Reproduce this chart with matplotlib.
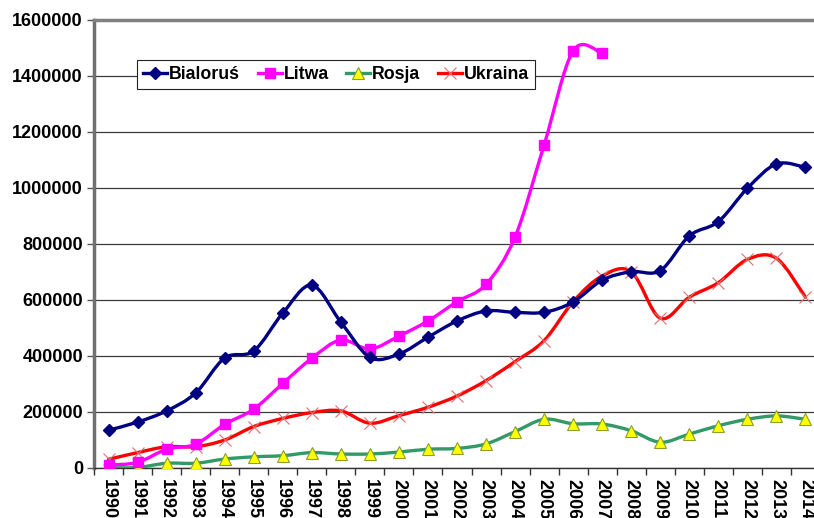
import matplotlib.pyplot as plt
from matplotlib.path import Path
from matplotlib.patches import PathPatch
from matplotlib.lines import Line2D
from matplotlib.ticker import FixedLocator

plt.rcParams['font.family'] = ['Liberation Sans', 'DejaVu Sans']
plt.rcParams['font.weight'] = 'bold'

years = [str(y) for y in range(1990, 2015)]

bialorus = [135000, 164000, 204000, 268000, 393000, 418000, 553000, 653000, 521000,
            395000, 407000, 467000, 525000, 561000, 556000, 556000, 593000, 671000,
            701000, 705000, 829000, 880000, 999000, 1086000, 1074000]
litwa = [11000, 20000, 67000, 85000, 156000, 210000, 302000, 392000, 457000,
         425000, 471000, 525000, 594000, 656000, 825000, 1154000, 1490000, 1481000]
rosja = [1000, 2000, 17000, 17000, 32000, 40000, 44000, 55000, 50000,
         50000, 57000, 67000, 70000, 86000, 130000, 174000, 158000, 157000,
         133000, 92000, 121000, 151000, 174000, 186000, 174000]
ukraina = [31000, 55000, 76000, 76000, 100000, 148000, 177000, 198000, 204000,
           160000, 187000, 217000, 257000, 312000, 380000, 455000, 594000, 686000,
           701000, 535000, 610000, 662000, 745000, 749000, 610000]


def smooth_path(xs, ys):
    # Excel-like smoothed line: cubic Bezier through the points
    n = len(xs)
    verts = [(xs[0], ys[0])]
    codes = [Path.MOVETO]
    for i in range(n - 1):
        x0, y0 = (xs[i - 1], ys[i - 1]) if i > 0 else (xs[i], ys[i])
        x1, y1 = xs[i], ys[i]
        x2, y2 = xs[i + 1], ys[i + 1]
        x3, y3 = (xs[i + 2], ys[i + 2]) if i + 2 < n else (x2, y2)
        c1 = (x1 + (x2 - x0) / 6, y1 + (y2 - y0) / 6)
        c2 = (x2 - (x3 - x1) / 6, y2 - (y3 - y1) / 6)
        verts += [c1, c2, (x2, y2)]
        codes += [Path.CURVE4] * 3
    return Path(verts, codes)


def plot_series(ax, values, color, marker, mfc, mec, ms, mew, z):
    xs = list(range(len(values)))
    ax.add_patch(PathPatch(smooth_path(xs, values), facecolor='none', edgecolor=color,
                           lw=2.4, zorder=z, capstyle='round', joinstyle='round'))
    ax.plot(xs, values, ls='none', marker=marker, ms=ms, mfc=mfc, mec=mec, mew=mew,
            zorder=z + 0.5)
    return Line2D([], [], color=color, lw=2.4, marker=marker, ms=ms, mfc=mfc, mec=mec, mew=mew)


fig = plt.figure(figsize=(8.14, 5.18), dpi=100)
ax = fig.add_axes([94 / 814, 50 / 518, 726 / 814, 448 / 518])

h_ukr = plot_series(ax, ukraina, '#FF0000', 'x', '#E07070', '#E07070', 8, 0.8, 3)
h_ros = plot_series(ax, rosja, '#339966', '^', '#FFFF00', '#88A030', 8.5, 0.8, 4)
h_lit = plot_series(ax, litwa, '#FF00FF', 's', '#FF00FF', '#FF00FF', 6.5, 1, 5)
h_bia = plot_series(ax, bialorus, '#000080', 'D', '#000080', '#000080', 6, 1, 6)

ax.set_xlim(-0.5, 24.5)
ax.set_ylim(0, 1600000)
ax.set_yticks(range(0, 1600001, 200000))
ax.set_yticklabels([str(v) for v in range(0, 1600001, 200000)], fontsize=13, fontweight='bold')
ax.set_xticks(range(len(years)))
ax.set_xticklabels(years, rotation=-90, fontsize=13, fontweight='bold', va='top')
ax.xaxis.set_minor_locator(FixedLocator([i + 0.5 for i in range(-1, 25)]))
ax.tick_params(axis='x', which='major', length=0, pad=8)
ax.tick_params(axis='x', which='minor', length=5, width=1, color='#333333')
ax.tick_params(axis='y', length=5, width=1, color='#555555', pad=3)

ax.grid(axis='y', color='#3a3a3a', lw=0.9)
ax.set_axisbelow(True)
ax.spines['right'].set_visible(False)
ax.spines['top'].set_color('#808080')
ax.spines['top'].set_linewidth(2.5)
ax.spines['left'].set_color('#707070')
ax.spines['left'].set_linewidth(2.5)
ax.spines['bottom'].set_color('#333333')
ax.spines['bottom'].set_linewidth(1)

leg = ax.legend([h_bia, h_lit, h_ros, h_ukr], ['Bialoruś', 'Litwa', 'Rosja', 'Ukraina'],
                loc='upper left', bbox_to_anchor=(0.059, 0.911), borderaxespad=0, ncol=4,
                handlelength=1.35, handletextpad=0.1, columnspacing=1.0, borderpad=0.35,
                fancybox=False, framealpha=1, edgecolor='#222222',
                prop={'family': 'Liberation Sans', 'weight': 'bold', 'size': 12.8})
leg.get_frame().set_linewidth(0.8)

fig.savefig('out.png', dpi=100)
